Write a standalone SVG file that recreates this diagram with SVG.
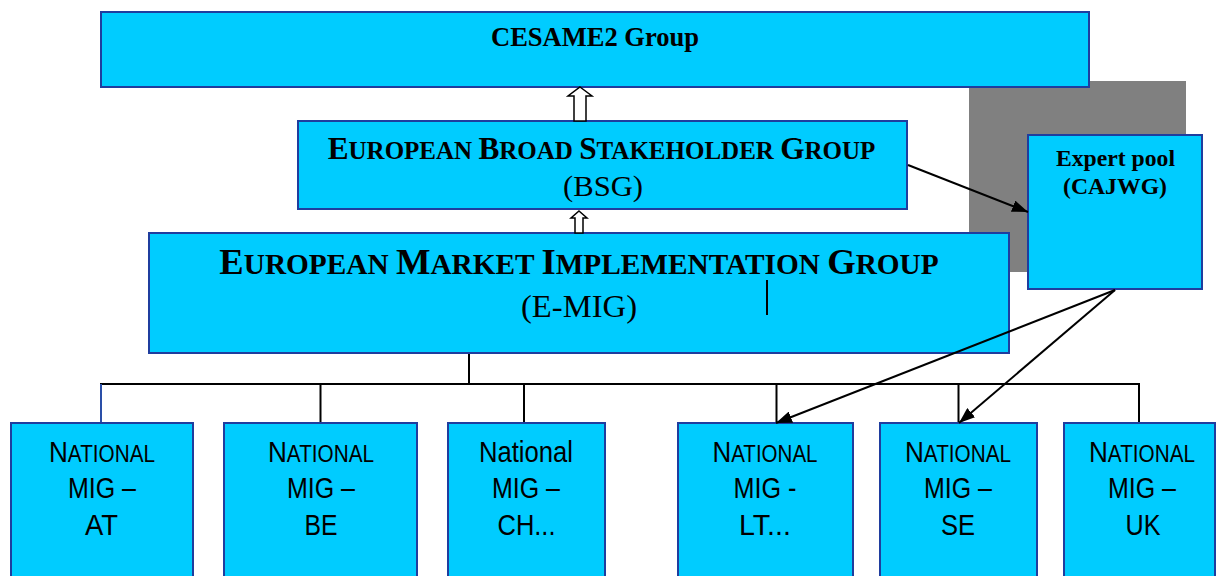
<svg xmlns="http://www.w3.org/2000/svg" width="1216" height="576" viewBox="0 0 1216 576">
<defs>
<style>
.box{fill:#00CCFF;stroke:#1F3D9E;stroke-width:2}
.ser{font-family:"Liberation Serif","Times New Roman",serif;fill:#000}
.b{font-weight:bold}
.san{font-family:"Liberation Sans Narrow","Liberation Sans",Arial,sans-serif;fill:#000;font-size:29px}
.ln{stroke:#000;stroke-width:2;fill:none}
.hollow{fill:#fff;stroke:#000;stroke-width:1.5}
</style>
<marker id="ah" viewBox="0 0 16 12" refX="16" refY="6" markerWidth="16" markerHeight="12" markerUnits="userSpaceOnUse" orient="auto">
<path d="M0,0 L16,6 L0,12 z" fill="#000"/>
</marker>
</defs>
<rect width="1216" height="576" fill="#fff"/>
<rect id="shadow" x="969" y="81" width="217" height="191" fill="#808080"/>

<g id="cesame2">
<rect class="box" x="101" y="12" width="988" height="75"/>
<text class="ser b" x="595" y="46" font-size="27" text-anchor="middle" textLength="208" lengthAdjust="spacingAndGlyphs">CESAME2 Group</text>
</g>

<g id="bsg">
<rect class="box" x="298" y="121" width="609" height="88"/>
<text class="ser b" x="601.5" y="159" font-size="31.3" text-anchor="middle">E<tspan font-size="25">UROPEAN </tspan>B<tspan font-size="25">ROAD </tspan>S<tspan font-size="25">TAKEHOLDER </tspan>G<tspan font-size="25">ROUP</tspan></text>
<text class="ser" x="603" y="196" font-size="29" text-anchor="middle" textLength="80" lengthAdjust="spacingAndGlyphs">(BSG)</text>
</g>

<g id="emig">
<rect class="box" x="149" y="233" width="860" height="120"/>
<text class="ser b" x="579" y="274" font-size="36.6" text-anchor="middle">E<tspan font-size="29.3">UROPEAN </tspan>M<tspan font-size="29.3">ARKET </tspan>I<tspan font-size="29.3">MPLEMENTATION </tspan>G<tspan font-size="29.3">ROUP</tspan></text>
<text class="ser" x="579" y="317" font-size="32" text-anchor="middle" textLength="116" lengthAdjust="spacingAndGlyphs">(E-MIG)</text>
<line x1="767" y1="280" x2="767" y2="315" stroke="#000" stroke-width="2"/>
</g>

<g id="expert">
<rect class="box" x="1028" y="135" width="174" height="154"/>
<text class="ser b" x="1115.5" y="166" font-size="23" text-anchor="middle" textLength="119" lengthAdjust="spacingAndGlyphs">Expert pool</text>
<text class="ser b" x="1115" y="194" font-size="23" text-anchor="middle" textLength="104" lengthAdjust="spacingAndGlyphs">(CAJWG)</text>
</g>

<g id="mig-at">
<rect class="box" x="11" y="423" width="182" height="160"/>
<text class="san" x="102" y="461.5" text-anchor="middle" textLength="106" lengthAdjust="spacingAndGlyphs">N<tspan font-size="23">ATIONAL</tspan></text>
<text class="san" x="102" y="498" text-anchor="middle" textLength="68" lengthAdjust="spacingAndGlyphs">MIG –</text>
<text class="san" x="101.5" y="535" text-anchor="middle" textLength="33" lengthAdjust="spacingAndGlyphs">AT</text>
</g>

<g id="mig-be">
<rect class="box" x="224" y="423" width="193" height="160"/>
<text class="san" x="321" y="461.5" text-anchor="middle" textLength="106" lengthAdjust="spacingAndGlyphs">N<tspan font-size="23">ATIONAL</tspan></text>
<text class="san" x="321" y="498" text-anchor="middle" textLength="68" lengthAdjust="spacingAndGlyphs">MIG –</text>
<text class="san" x="321" y="535" text-anchor="middle" textLength="33" lengthAdjust="spacingAndGlyphs">BE</text>
</g>

<g id="mig-ch">
<rect class="box" x="448" y="423" width="157" height="160"/>
<text class="san" x="526" y="461.5" text-anchor="middle" textLength="94" lengthAdjust="spacingAndGlyphs">National</text>
<text class="san" x="526" y="498" text-anchor="middle" textLength="68" lengthAdjust="spacingAndGlyphs">MIG –</text>
<text class="san" x="526.5" y="535" text-anchor="middle" textLength="58" lengthAdjust="spacingAndGlyphs">CH...</text>
</g>

<g id="mig-lt">
<rect class="box" x="678" y="423" width="175" height="160"/>
<text class="san" x="765" y="461.5" text-anchor="middle" textLength="105" lengthAdjust="spacingAndGlyphs">N<tspan font-size="23">ATIONAL</tspan></text>
<text class="san" x="765" y="498" text-anchor="middle" textLength="63" lengthAdjust="spacingAndGlyphs">MIG -</text>
<text class="san" x="765" y="535" text-anchor="middle" textLength="52" lengthAdjust="spacingAndGlyphs">LT...</text>
</g>

<g id="mig-se">
<rect class="box" x="880" y="423" width="157" height="160"/>
<text class="san" x="958" y="461.5" text-anchor="middle" textLength="106" lengthAdjust="spacingAndGlyphs">N<tspan font-size="23">ATIONAL</tspan></text>
<text class="san" x="958" y="498" text-anchor="middle" textLength="68" lengthAdjust="spacingAndGlyphs">MIG –</text>
<text class="san" x="958" y="535" text-anchor="middle" textLength="34" lengthAdjust="spacingAndGlyphs">SE</text>
</g>

<g id="mig-uk">
<rect class="box" x="1064" y="423" width="151" height="160"/>
<text class="san" x="1142" y="461.5" text-anchor="middle" textLength="106" lengthAdjust="spacingAndGlyphs">N<tspan font-size="23">ATIONAL</tspan></text>
<text class="san" x="1142" y="498" text-anchor="middle" textLength="68" lengthAdjust="spacingAndGlyphs">MIG –</text>
<text class="san" x="1143" y="535" text-anchor="middle" textLength="35" lengthAdjust="spacingAndGlyphs">UK</text>
</g>

<g id="connectors">
<path class="hollow" d="M580,87 L592,96 L586,96 L586,121 L574,121 L574,96 L568,96 Z"/>
<path class="hollow" d="M579,211 L587,218 L583,218 L583,233 L575,233 L575,218 L571,218 Z"/>
<line class="ln" x1="469" y1="354" x2="469" y2="384"/>
<line class="ln" x1="100" y1="384" x2="1140" y2="384"/>
<line x1="101" y1="384" x2="101" y2="422" stroke="#2A4FA8" stroke-width="2"/>
<line class="ln" x1="320.5" y1="384" x2="320.5" y2="422"/>
<line class="ln" x1="524" y1="384" x2="524" y2="422"/>
<line class="ln" x1="776.5" y1="384" x2="776.5" y2="422"/>
<line class="ln" x1="958.5" y1="384" x2="958.5" y2="422"/>
<line class="ln" x1="1139" y1="384" x2="1139" y2="422"/>
<line class="ln" x1="908" y1="165" x2="1028" y2="212" marker-end="url(#ah)"/>
<line class="ln" x1="1115" y1="290" x2="776" y2="423" marker-end="url(#ah)"/>
<line class="ln" x1="1115" y1="290" x2="959" y2="423" marker-end="url(#ah)"/>
</g>
</svg>
